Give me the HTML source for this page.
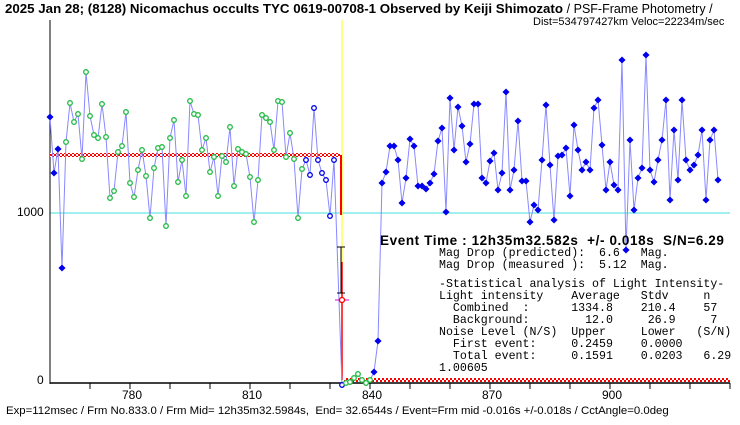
<!DOCTYPE html>
<html><head><meta charset="utf-8"><style>
body{margin:0;background:#fff;width:740px;height:425px;overflow:hidden;position:relative;font-family:"Liberation Sans","Noto Sans CJK JP",sans-serif}
.t{position:absolute;white-space:pre;color:#000}
.m{font-family:"Liberation Mono","Noto Sans CJK JP",monospace;font-size:11.6px;line-height:12px}
</style></head><body>
<svg id="s" width="740" height="425" style="position:absolute;left:0;top:0">
<defs><pattern id="ck" width="4" height="4" patternUnits="userSpaceOnUse"><rect width="4" height="4" fill="#fff"/><rect width="2" height="2" fill="#f00"/><rect x="2" y="2" width="2" height="2" fill="#f00"/></pattern></defs>
<line x1="50" y1="213" x2="730" y2="213" stroke="#40e0e0" stroke-width="1"/>
<line x1="342" y1="20" x2="342" y2="383" stroke="#ffff00" stroke-width="1"/>
<line x1="50" y1="20" x2="50" y2="384" stroke="#000" stroke-width="1"/>
<line x1="50" y1="383" x2="730" y2="383" stroke="#000" stroke-width="1.5"/>
<rect x="50" y="153" width="290" height="4" fill="url(#ck)"/>
<rect x="344" y="378" width="386" height="4" fill="url(#ck)"/>
<line x1="341" y1="155" x2="341" y2="215" stroke="#f00" stroke-width="2"/>
<line x1="342" y1="262" x2="342" y2="380" stroke="#f00" stroke-width="1.5"/>
<g id="ser"></g>
<line x1="341" y1="247" x2="341" y2="293" stroke="#000"/>
<line x1="337" y1="247" x2="345" y2="247" stroke="#000"/>
<line x1="337" y1="293" x2="345" y2="293" stroke="#000"/>
<line x1="335" y1="300" x2="349" y2="300" stroke="#e000e0"/>
<circle cx="342" cy="300" r="2.5" fill="#fff" stroke="#f00" stroke-width="1.3"/>
<g id="tk"></g>
</svg>
<div class="t" style="left:5px;top:1px;font-size:13.3px;font-weight:bold">2025 Jan 28; (8128) Nicomachus occults TYC 0619-00708-1 Observed by Keiji Shimozato <span style="font-weight:normal;font-size:12.5px">/ PSF-Frame Photometry /</span></div>
<div class="t" style="left:533px;top:16px;font-size:11px">Dist=534797427km Veloc=22234m/sec</div>
<div class="t" style="left:17px;top:205px;font-size:12px">1000</div>
<div class="t" style="left:37px;top:373px;font-size:12px">0</div>
<div class="t" style="left:122px;top:388px;font-size:12px">780</div>
<div class="t" style="left:242px;top:388px;font-size:12px">810</div>
<div class="t" style="left:362px;top:388px;font-size:12px">840</div>
<div class="t" style="left:482px;top:388px;font-size:12px">870</div>
<div class="t" style="left:602px;top:388px;font-size:12px">900</div>
<div class="t" style="left:6px;top:405px;font-size:11.4px">Exp=112msec / Frm No.833.0 / Frm Mid= 12h35m32.5984s,  End= 32.6544s / Event=Frm mid -0.016s +/-0.018s / CctAngle=0.0deg</div>
<div class="t" style="left:380px;top:233px;font-size:13.5px;font-weight:bold;letter-spacing:0.6px">Event Time : 12h35m32.582s  +/- 0.018s  S/N=6.29</div>
<div class="t m" style="left:439px;top:248px">Mag Drop (predicted):  6.6   Mag.
Mag Drop (measured ):  5.12  Mag.</div>
<div class="t m" style="left:439px;top:279px">-Statistical analysis of Light Intensity-
Light intensity    Average   Stdv     n
  Combined  :      1334.8    210.4    57
  Background:        12.0     26.9     7
Noise Level (N/S)  Upper     Lower   (S/N)
  First event:     0.2459    0.0000
  Total event:     0.1591    0.0203   6.29
1.00605</div>
<script>
var L=[117,173,149,268,142,103,122,114,159,72,116,135,138,104,137,198,191,152,146,112,183,197,170,150,176,218,168,148,147,226,138,120,182,160,196,101,114,115,150,138,172,157,196,156,162,127,186,149,152,154,177,222,180,115,118,122,150,101,102,157,133,159,218,169,160,175,108,160,173,180,216,160],
R=[372,341,183,172,146,146,160,203,178,139,146,186,186,189,183,174,141,128,212,98,150,107,126,162,144,104,104,178,183,161,153,190,173,92,190,170,121,181,181,222,205,210,160,105,165,220,156,155,148,196,125,150,170,162,170,108,100,145,190,162,185,190,60,250,140,210,178,168,55,170,182,160,140,100,200,130,180,100,160,170,165,155,130,200,140,130,180];
var pts=[];
for(var i=0;i<L.length;i++)pts.push([50+4*i,L[i]]);
var bot=[[342,385],[346,383],[350,382],[354,378],[358,374],[362,380],[366,383],[370,380]];
bot.forEach(function(p){pts.push(p)});
for(var j=0;j<R.length;j++)pts.push([374+4*j,R[j]]);
pts=pts.filter(function(p){return p[0]<=730});
var g=document.getElementById('ser'),h='<polyline fill="none" stroke="#8888ff" stroke-width="1" points="'+pts.map(function(p){return p.join(',')}).join(' ')+'"/>';
pts.forEach(function(p){var x=p[0],y=p[1];
 if(x<66||x>=374)h+='<rect x="'+(x-2.5)+'" y="'+(y-2.5)+'" width="5" height="5" fill="#0000ee" transform="rotate(45 '+x+' '+y+')"/>';
 else if(x>=346&&x<374)h+='<circle cx="'+x+'" cy="'+y+'" r="2.3" fill="#fff" stroke="#22bb44" stroke-width="1.3"/>';
 else if(x>=306)h+='<circle cx="'+x+'" cy="'+y+'" r="2.3" fill="#fff" stroke="#0000ee" stroke-width="1.3"/>';
 else h+='<circle cx="'+x+'" cy="'+y+'" r="2.3" fill="#fff" stroke="#22bb44" stroke-width="1.3"/>';});
g.innerHTML=h;
var t='';for(var x=90;x<=730;x+=40)t+='<line x1="'+x+'" y1="383" x2="'+x+'" y2="389" stroke="#000"/>';
document.getElementById('tk').innerHTML=t;
</script>
</body></html>
